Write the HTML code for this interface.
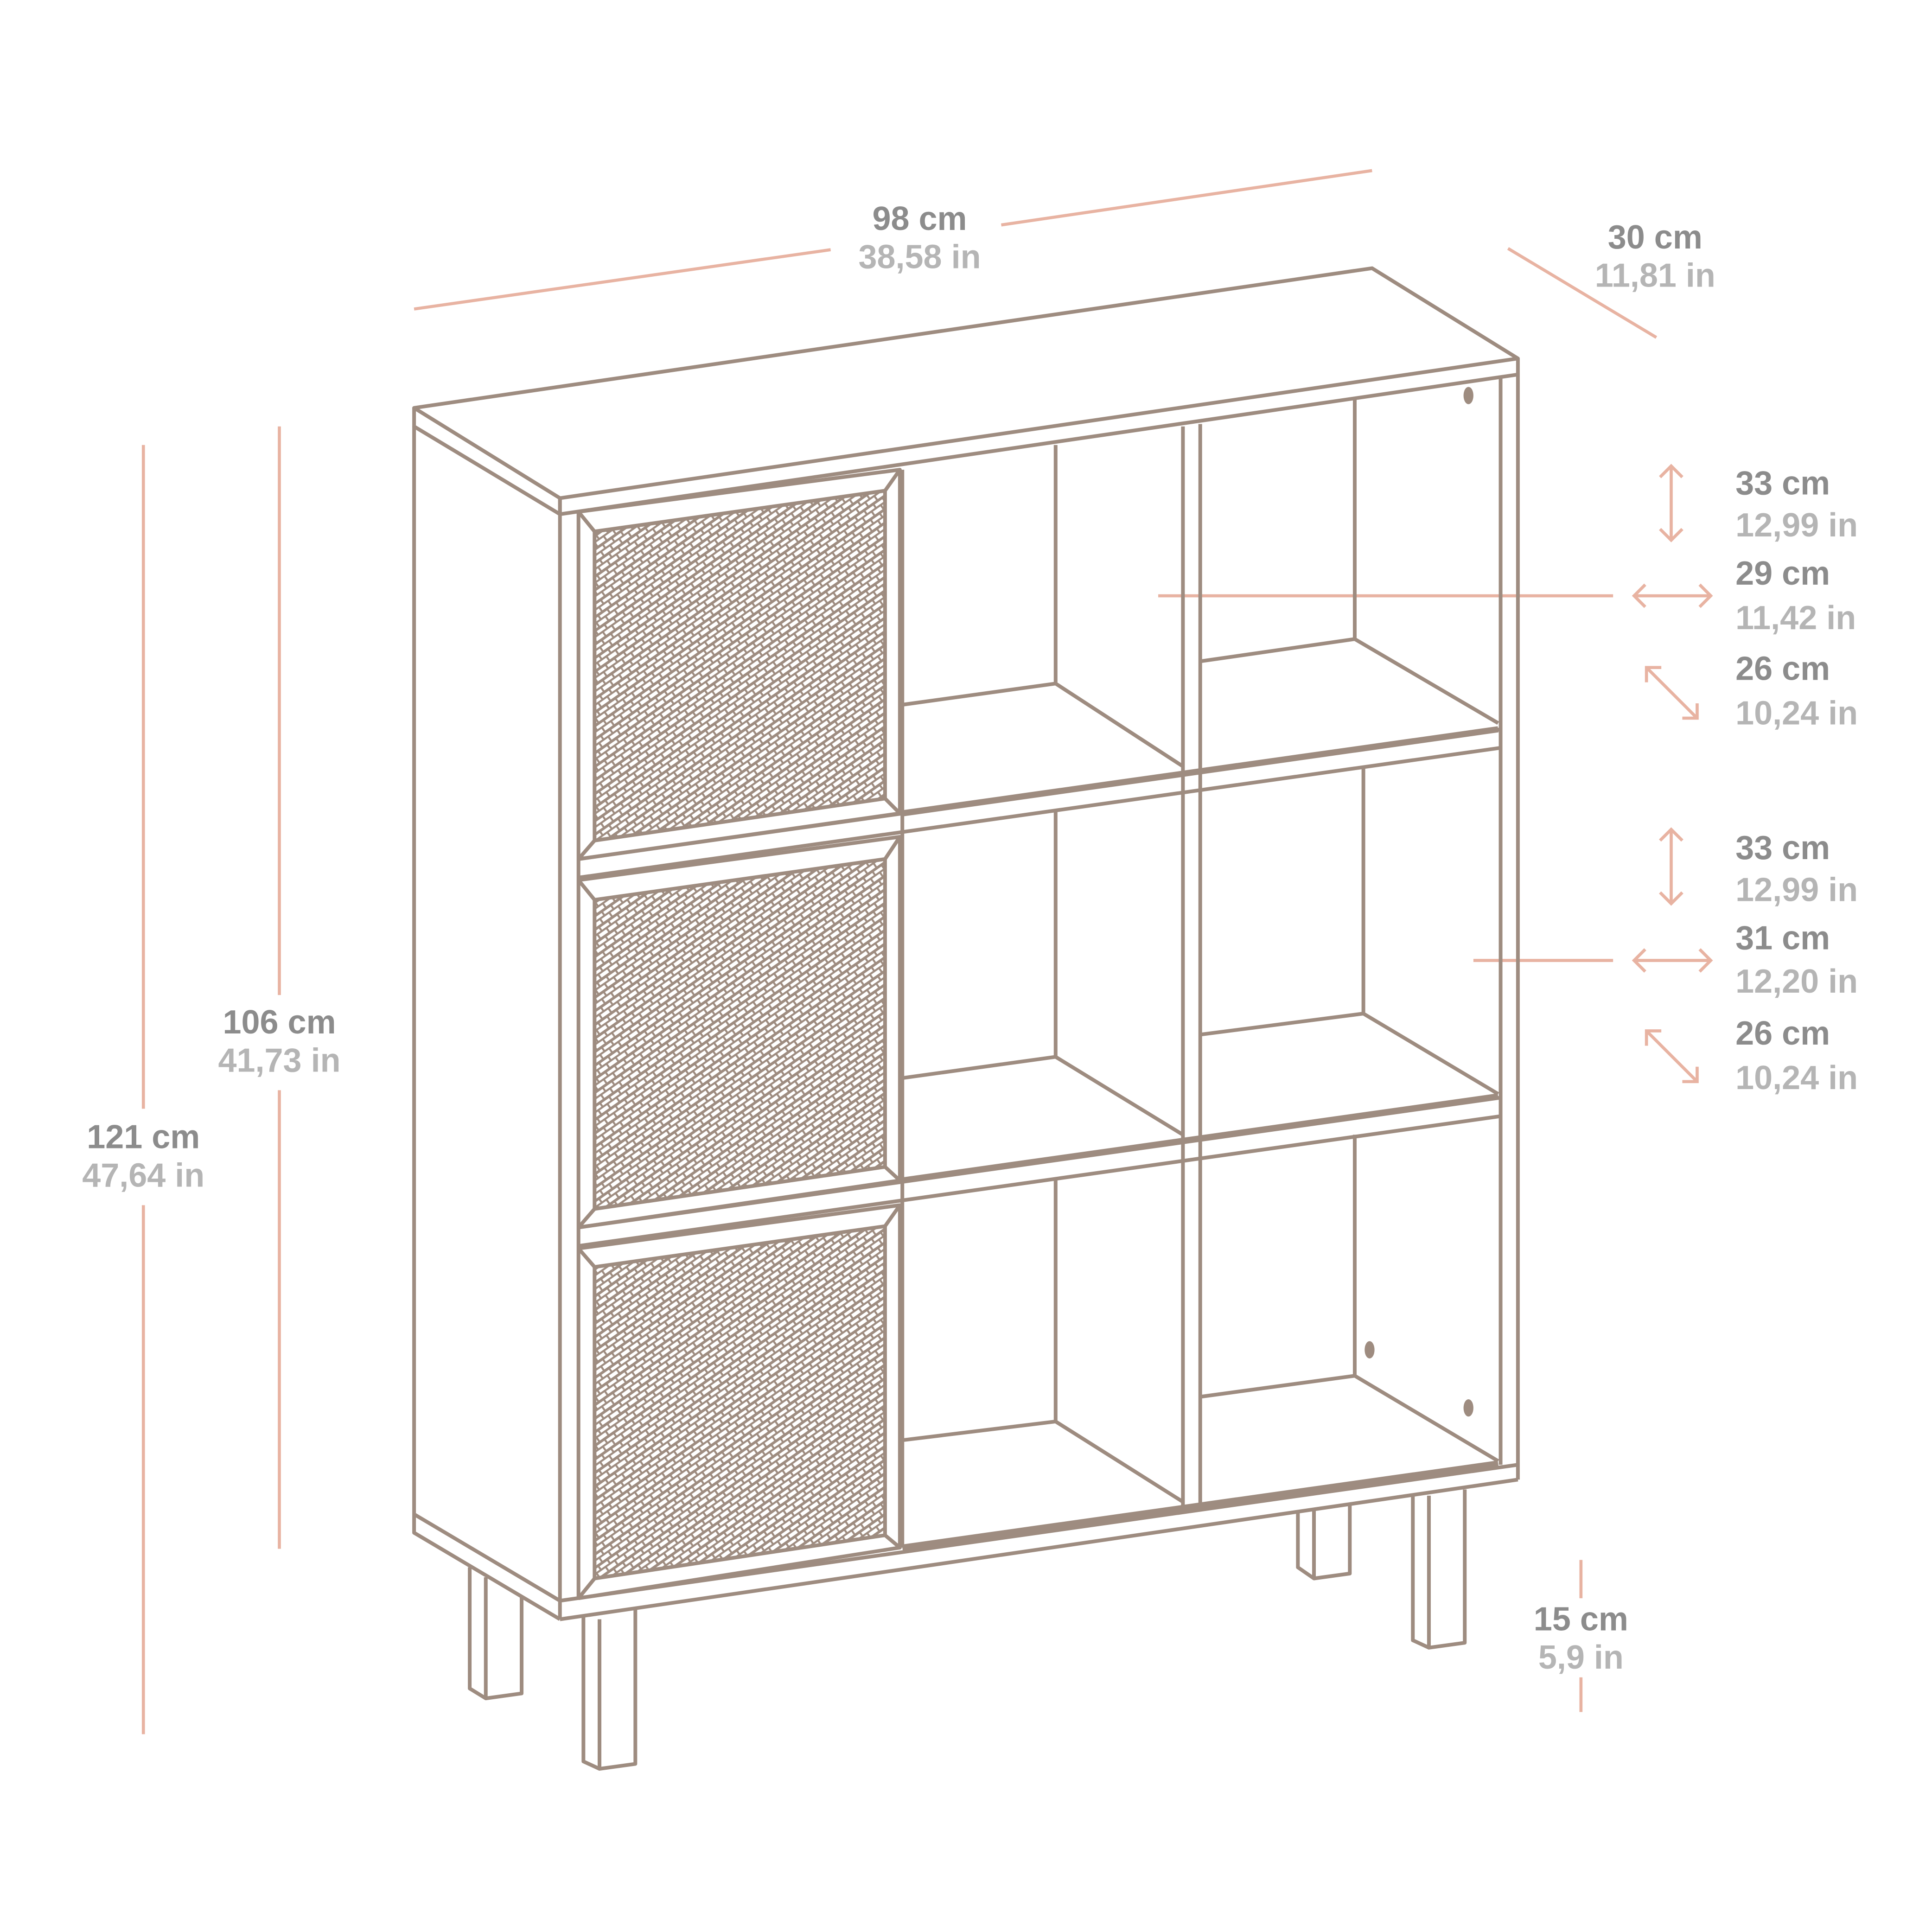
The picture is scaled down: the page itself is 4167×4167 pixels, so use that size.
<!DOCTYPE html>
<html><head><meta charset="utf-8"><style>
html,body{margin:0;padding:0;background:#fff}
svg{display:block}
text{font-family:"Liberation Sans",sans-serif;font-weight:bold;text-anchor:middle}
.a{fill:#8c8c8c;font-size:27px}
.b{fill:#b5b5b5;font-size:27px}
</style></head><body>
<svg width="4167" height="4167" viewBox="0 0 1563 1563" xmlns="http://www.w3.org/2000/svg">
<defs>
<pattern id="rt" width="9" height="9" patternUnits="userSpaceOnUse" patternTransform="rotate(-35)">
<rect width="9" height="9" fill="#fff"/>
<rect y="0" width="9" height="2.2" fill="#9e8c80"/>
<rect y="4.5" width="9" height="1.6" fill="#9e8c80"/>
<rect x="2" y="2" width="1.6" height="2.5" fill="#9e8c80"/>
<rect x="6.5" y="6" width="1.6" height="3" fill="#9e8c80"/>
</pattern>
</defs>
<g fill="none" stroke="#e8b3a2" stroke-width="2.5">
<line x1="335" y1="250" x2="672" y2="202"/><line x1="810" y1="182" x2="1110" y2="138"/>
<line x1="1220" y1="201" x2="1340" y2="273"/>
<line x1="116" y1="360" x2="116" y2="897"/><line x1="116" y1="975" x2="116" y2="1403"/>
<line x1="226" y1="345" x2="226" y2="805"/><line x1="226" y1="882" x2="226" y2="1253"/>
<line x1="1279" y1="1262" x2="1279" y2="1293"/><line x1="1279" y1="1357" x2="1279" y2="1385"/>
<line x1="937" y1="482" x2="1305" y2="482"/><line x1="1192" y1="777" x2="1305" y2="777"/>
<path d="M1352 377 V437 M1343 386 L1352 377 L1361 386 M1343 428 L1352 437 L1361 428"/>
<path d="M1322 482 H1384 M1331 473 L1322 482 L1331 491 M1375 473 L1384 482 L1375 491"/>
<path d="M1332 540 L1373 581 M1332 552 V540 H1344 M1373 569 V581 H1361"/>
<path d="M1352 671 V731 M1343 680 L1352 671 L1361 680 M1343 722 L1352 731 L1361 722"/>
<path d="M1322 777 H1384 M1331 768 L1322 777 L1331 786 M1375 768 L1384 777 L1375 786"/>
<path d="M1332 834 L1373 875 M1332 846 V834 H1344 M1373 863 V875 H1361"/>
</g>
<g stroke="#9e8c80" stroke-width="3">
<polygon points="481,430 716,397 716,646 481,680" fill="url(#rt)"/>
<polygon points="481,728 716,695 716,944 481,978" fill="url(#rt)"/>
<polygon points="481,1025 716,992 716,1242 481,1277" fill="url(#rt)"/>
</g>
<g fill="none" stroke="#9e8c80" stroke-width="3" stroke-linejoin="round">
<path d="M335 330 L1110 217 L1228 290 L453 403 Z"/>
<path d="M453 403 V416 L1228 303 M335 330 V345 L453 416"/>
<path d="M335 345 V1240 L453 1310 M335 1225 L453 1295"/>
<path d="M453 403 V1310 M468 414 V1293"/>
<path d="M1228 290 V1197 M1214 305 V1185"/>
<path d="M453 1295 L1228 1185 M453 1310 L1228 1197"/>
<path d="M468 695 L1214 590 M468 710 L1214 605"/>
<path d="M468 993 L1214 888 M468 1008 L1214 903"/>
<path d="M730 658 L1212 590 M730 955 L1212 887 M730 1252 L1212 1184" stroke-width="5"/>
<path d="M730 380 V1252 M957 345 V1220 M971 343 V1218"/>
<path d="M854 360 V553 M731 570 L854 553 L957 620"/>
<path d="M1096 323 V517 M971 535 L1096 517 L1212 585"/>
<path d="M854 655 V855 M731 872 L854 855 L957 918"/>
<path d="M1103 620 V820 M971 837 L1103 820 L1212 885"/>
<path d="M854 953 V1150 M731 1165 L854 1150 L957 1215"/>
<path d="M1096 918 V1113 M971 1130 L1096 1113 L1212 1182"/>
<path d="M468 414 L728 380 V658 L468 695 M468 414 L481 430 M728 380 L716 397 M728 658 L716 646 M468 695 L481 680"/>
<path d="M468 712 L728 677 V955 L468 993 M468 712 L481 728 M728 677 L716 695 M728 955 L716 944 M468 993 L481 978"/>
<path d="M468 1010 L728 975 V1252 L468 1293 M468 1010 L481 1025 M728 975 L716 992 M728 1252 L716 1242 M468 1293 L481 1277"/>
<path d="M472 1308 V1425 L485 1431 L514 1427 V1302 M485 1310 V1431"/>
<path d="M380 1268 V1366 L393 1374 L422 1370 V1292 M393 1276 V1374"/>
<path d="M1143 1210 V1327 L1156 1333 L1185 1329 V1205 M1156 1210 V1333"/>
<path d="M1050 1222 V1268 L1063 1277 L1092 1273 V1218 M1063 1222 V1277"/>
</g>
<g fill="#9e8c80">
<ellipse cx="1188" cy="320" rx="4" ry="7"/>
<ellipse cx="1108" cy="1092" rx="4" ry="7"/>
<ellipse cx="1188" cy="1139" rx="4" ry="7"/>
</g>
<text class="a" x="744" y="186">98 cm</text><text class="b" x="744" y="217">38,58 in</text>
<text class="a" x="1339" y="201">30 cm</text><text class="b" x="1339" y="232">11,81 in</text>
<text class="a" x="116" y="929">121  cm</text><text class="b" x="116" y="960">47,64 in</text>
<text class="a" x="226" y="836">106  cm</text><text class="b" x="226" y="867">41,73 in</text>
<text class="a" x="1279" y="1319">15 cm</text><text class="b" x="1279" y="1350">5,9 in</text>
<text class="a" x="1404" y="400" style="text-anchor:start">33 cm</text><text class="b" x="1404" y="434" style="text-anchor:start">12,99 in</text>
<text class="a" x="1404" y="473" style="text-anchor:start">29 cm</text><text class="b" x="1404" y="509" style="text-anchor:start">11,42 in</text>
<text class="a" x="1404" y="550" style="text-anchor:start">26 cm</text><text class="b" x="1404" y="586" style="text-anchor:start">10,24 in</text>
<text class="a" x="1404" y="695" style="text-anchor:start">33 cm</text><text class="b" x="1404" y="729" style="text-anchor:start">12,99 in</text>
<text class="a" x="1404" y="768" style="text-anchor:start">31 cm</text><text class="b" x="1404" y="803" style="text-anchor:start">12,20 in</text>
<text class="a" x="1404" y="845" style="text-anchor:start">26 cm</text><text class="b" x="1404" y="881" style="text-anchor:start">10,24 in</text>
</svg>
</body></html>
